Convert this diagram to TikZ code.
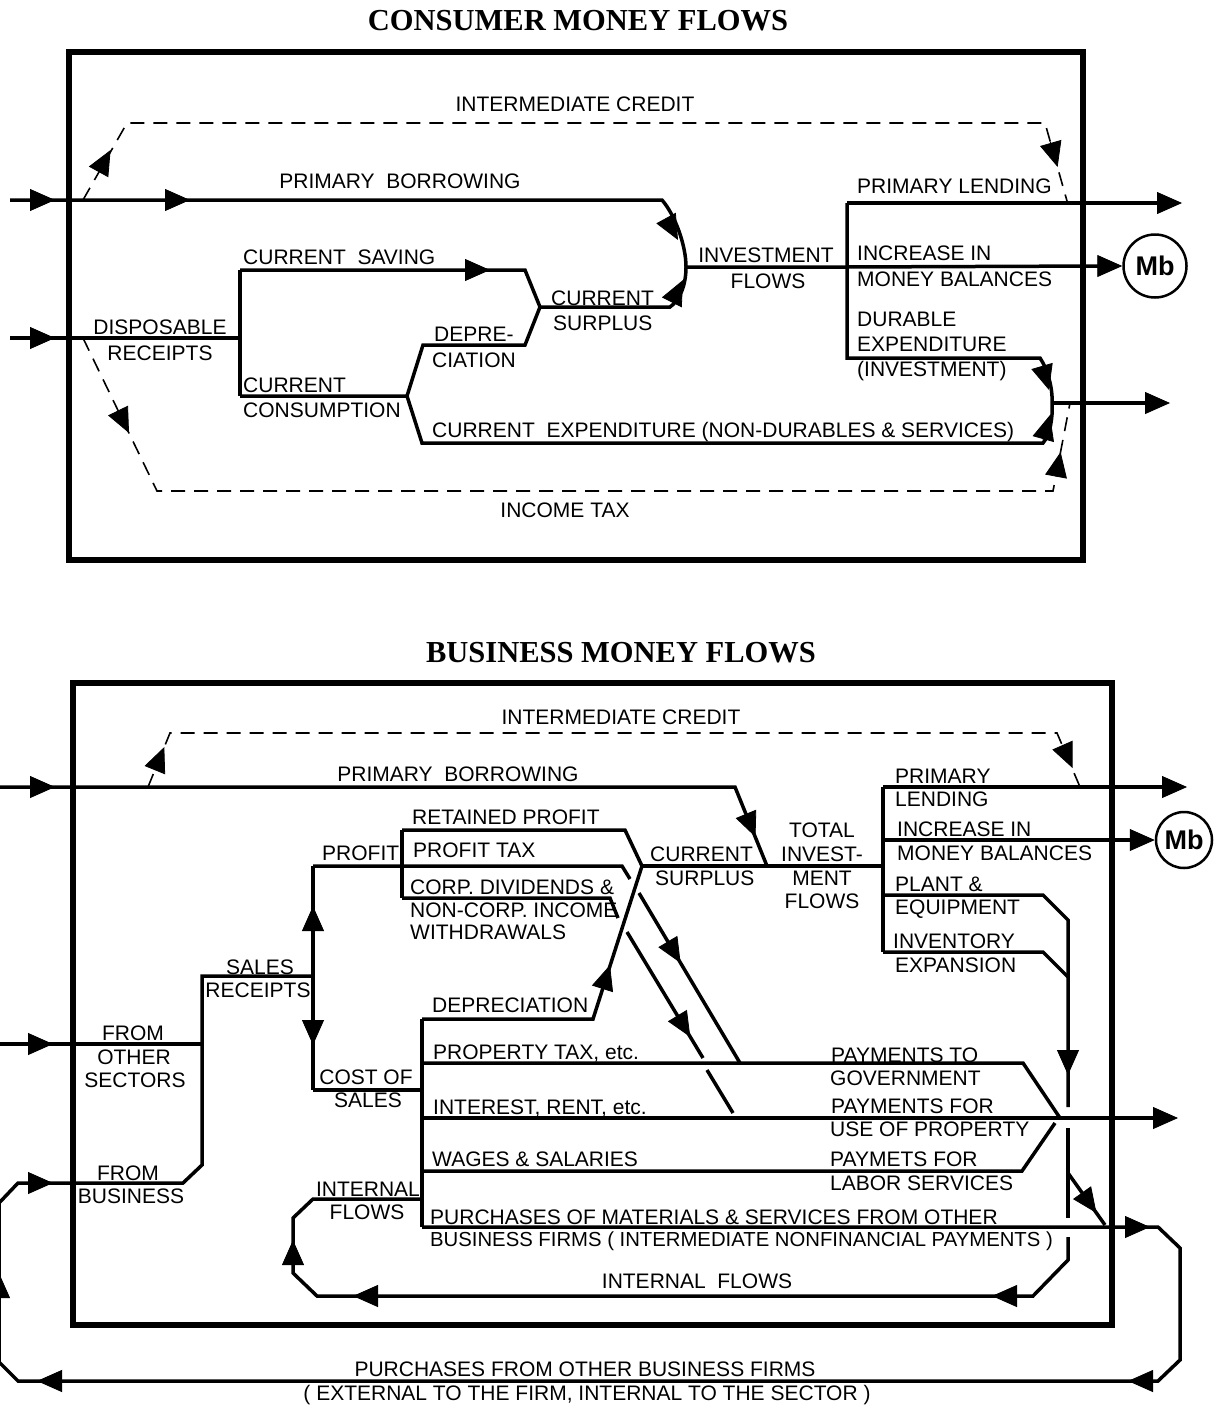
\documentclass[tikz,border=0pt]{standalone}
\usepackage{fontspec}
\setmainfont{Liberation Sans}
\newfontfamily\titlefont{Liberation Serif}
\usetikzlibrary{arrows.meta}

\begin{document}
\begin{tikzpicture}[x=1pt,y=-1pt,
  frame/.style={line width=5.5pt},
  flow/.style={line width=3.5pt},
  credit/.style={line width=1.6pt, dash pattern=on 14pt off 9pt},
  arrowhd/.style={line width=0.8pt, -{Triangle[length=25pt,width=22pt]}},
  lbl/.style={font=\fontsize{21}{21}\selectfont, inner sep=0pt, text height=14.5pt, text depth=0pt},
  lw/.style={lbl, anchor=west},
  heading/.style={font=\titlefont\bfseries\fontsize{30.5}{30.5}\selectfont, inner sep=0pt},
  money/.style={circle, draw, line width=2.5pt, inner sep=0pt, font=\bfseries\fontsize{27}{27}\selectfont}
]
\useasboundingbox (0,0) rectangle (1214,1405);

%% ===================== CONSUMER MONEY FLOWS =====================
\node[heading] (t-cons) at (578,21) {CONSUMER MONEY FLOWS};
\draw[frame] (69,52) rectangle (1083,560);

% junctions
\coordinate (c-bor)  at (10,200);
\coordinate (c-disp) at (10,338);
\coordinate (c-rec)  at (240,338);
\coordinate (c-sav)  at (240,270);
\coordinate (c-con)  at (240,396);
\coordinate (c-fork) at (407,396);
\coordinate (c-sur)  at (540,307);
\coordinate (c-inv)  at (686,267);
\coordinate (c-br)   at (847,267);
\coordinate (c-lend) at (847,203);
\coordinate (c-dur)  at (847,358);
\coordinate (c-exp)  at (1052,403);
\node[money, minimum size=63pt] (mb-c) at (1155,266) {Mb};

% primary borrowing into investment flows
\draw[flow] (c-bor) -- (662,200) .. controls (675,215) and (686,245) .. (c-inv);
% disposable receipts and its split
\draw[flow] (c-disp) -- (c-rec);
\draw[flow] (c-sav) -- (c-con);
\draw[flow] (c-sav) -- (525,270) -- (c-sur) -- (670,307) .. controls (680,300) and (686,285) .. (c-inv);
\draw[flow] (c-con) -- (c-fork) -- (423,345) -- (525,345) -- (c-sur);
\draw[flow] (c-fork) -- (422,443) -- (1043,443) .. controls (1050,435) and (1053,418) .. (c-exp);
% investment flows and their uses
\draw[flow] (c-inv) -- (c-br) -- ([xshift=-20pt]mb-c.west);
\draw[flow] (c-lend) -- (c-dur) -- (1040,358) .. controls (1047,368) and (1053,388) .. (c-exp);
\draw[flow] (c-lend) -- (1160,203);
\draw[flow] (c-exp) -- (1148,403);
% dashed credit and tax flows
\draw[credit] (83,200) -- (127,123) -- (1045,123) -- (1067,201);
\draw[credit] (83,338) -- (157,491) -- (1053,491) -- (1070,403);

% arrowheads
\draw[arrowhd] (30,200) -- (55,200);
\draw[arrowhd] (165,200) -- (190,200);
\draw[arrowhd] (30,338) -- (55,338);
\draw[arrowhd] (465,270) -- (490,270);
\draw[arrowhd] (666,218) -- (678,240);
\draw[arrowhd] (672,302) -- (683,280);
\draw[arrowhd] (1042,366) -- (1049,390);
\draw[arrowhd] (1043,440) -- (1050,415);
\draw[arrowhd] (1145,403) -- (1170,403);
\draw[arrowhd] (1157,203) -- (1182,203);
\draw[arrowhd] ([xshift=-25pt]mb-c.west) -- (mb-c.west);
\draw[arrowhd] (98.5,172) -- (110.6,150);
\draw[arrowhd] (1050.4,142) -- (1057.6,167);
\draw[arrowhd] (118,410.5) -- (129,433);
\draw[arrowhd] (1056,476.6) -- (1060.6,452);

% labels
\node[lbl] (l-ic1) at (575,104) {INTERMEDIATE CREDIT};
\node[lbl] (l-pb1) at (400,181) {PRIMARY\ \ BORROWING};
\node[lw]  (l-cs)  at (243,257) {CURRENT\ \ SAVING};
\node[lbl] (l-dr1) at (160,327) {DISPOSABLE};
\node[lbl] (l-dr2) at (160,353) {RECEIPTS};
\node[lw]  (l-cc1) at (243,385) {CURRENT};
\node[lw]  (l-cc2) at (243,410) {CONSUMPTION};
\node[lw]  (l-de1) at (434,334) {DEPRE-};
\node[lw]  (l-de2) at (432,360) {CIATION};
\node[lw]  (l-su1) at (551,298) {CURRENT};
\node[lw]  (l-su2) at (553,323) {SURPLUS};
\node[lbl] (l-if1) at (766,255) {INVESTMENT};
\node[lbl] (l-if2) at (768,281) {FLOWS};
\node[lw]  (l-pl)  at (857,186) {PRIMARY LENDING};
\node[lw]  (l-mb1) at (857,253) {INCREASE IN};
\node[lw]  (l-mb2) at (857,279) {MONEY BALANCES};
\node[lw]  (l-du1) at (857,319) {DURABLE};
\node[lw]  (l-du2) at (857,344) {EXPENDITURE};
\node[lw]  (l-du3) at (857,369) {(INVESTMENT)};
\node[lw]  (l-ce)  at (432,430) {CURRENT\ \ EXPENDITURE (NON-DURABLES \& SERVICES)};
\node[lbl] (l-it)  at (565,510) {INCOME TAX};

%% ===================== BUSINESS MONEY FLOWS =====================
\node[heading] (t-bus) at (621,653) {BUSINESS MONEY FLOWS};
\draw[frame] (73,683) rectangle (1112,1325);

% junctions
\coordinate (b-bor)  at (0,787);
\coordinate (b-oth)  at (0,1044);
\coordinate (b-sr)   at (202,976);
\coordinate (b-pc)   at (313,976);
\coordinate (b-prof) at (313,866);
\coordinate (b-cost) at (313,1090);
\coordinate (b-pt)   at (402,866);
\coordinate (b-ret)  at (402,830);
\coordinate (b-div)  at (402,898);
\coordinate (b-cs)   at (642,866);
\coordinate (b-tot)  at (883,866);
\coordinate (b-lend) at (883,787);
\coordinate (b-mb)   at (883,840);
\coordinate (b-pe)   at (883,895);
\coordinate (b-ie)   at (883,952);
\coordinate (b-top)  at (422,1019);
\coordinate (b-bot)  at (422,1227);
\coordinate (b-out)  at (1058,1118);
\node[money, minimum size=56pt] (mb-b) at (1184,840) {Mb};

% primary borrowing, current surplus, total investment flows
\draw[flow] (b-bor) -- (735,787) -- (767,866);
\draw[flow] (b-cs) -- (b-tot);
\draw[flow] (b-lend) -- (b-ie);
\draw[flow] (b-lend) -- (1165,787);
\draw[flow] (b-mb) -- ([xshift=-20pt]mb-b.west);
\draw[flow] (b-pe) -- (1043,895) -- (1068,920) -- (1068,1107);
\draw[flow] (b-ie) -- (1043,952) -- (1068,977);
\draw[flow] (1068,1128) -- (1068,1218);
\draw[flow] (1068,1173) -- (1105,1225);
% internal flows loop
\draw[flow] (1068,1237) -- (1068,1260) -- (1033,1296) -- (317,1296) -- (293,1273)
  -- (293,1218) -- (313,1199) -- (422,1199);
% sales receipts and purchases from other business firms
\draw[flow] (b-oth) -- (202,1044);
\draw[flow] (b-pc) -- (b-sr) -- (202,1165) -- (183,1183) -- (18,1183) -- (-1,1203)
  -- (-1,1362) -- (18,1381) -- (1158,1381) -- (1180,1360) -- (1180,1248)
  -- (1158,1227) -- (b-bot);
\draw[flow] (b-prof) -- (b-cost);
% profit and its division
\draw[flow] (b-prof) -- (b-pt) -- (622,866) -- (630,879);
\draw[flow] (b-ret) -- (b-div);
\draw[flow] (b-ret) -- (625,830) -- (b-cs);
\draw[flow] (b-div) -- (610,898) -- (618,918);
\draw[flow] (639,893) -- (740,1063);
\draw[flow] (627,932) -- (703,1058);
\draw[flow] (707,1070) -- (733,1113);
% cost of sales and its division
\draw[flow] (b-cost) -- (422,1090);
\draw[flow] (b-top) -- (b-bot);
\draw[flow] (b-top) -- (593,1019) -- (b-cs);
\draw[flow] (422,1063) -- (1023,1063) -- (1060,1118);
\draw[flow] (422,1118) -- (1155,1118);
\draw[flow] (422,1171) -- (1022,1171) -- (1055,1123);
% dashed intermediate credit
\draw[credit] (148,787) -- (170,733) -- (1057,733) -- (1080,787);

% arrowheads
\draw[arrowhd] (30,787) -- (55,787);
\draw[arrowhd] (746,814) -- (755.5,837);
\draw[arrowhd] (1162,787) -- (1187,787);
\draw[arrowhd] ([xshift=-25pt]mb-b.west) -- (mb-b.west);
\draw[arrowhd] (1068,1050) -- (1068,1075);
\draw[arrowhd] (1082,1192.6) -- (1096.5,1213);
\draw[arrowhd] (1017,1296) -- (992,1296);
\draw[arrowhd] (378,1296) -- (353,1296);
\draw[arrowhd] (293,1265) -- (293,1240);
\draw[arrowhd] (28,1044) -- (53,1044);
\draw[arrowhd] (28,1183) -- (53,1183);
\draw[arrowhd] (-1,1298) -- (-1,1273);
\draw[arrowhd] (62,1381) -- (37,1381);
\draw[arrowhd] (1153,1381) -- (1128,1381);
\draw[arrowhd] (1125,1227) -- (1150,1227);
\draw[arrowhd] (1153,1118) -- (1178,1118);
\draw[arrowhd] (313,931) -- (313,906);
\draw[arrowhd] (313,1020) -- (313,1045);
\draw[arrowhd] (667.8,941.5) -- (680.6,963);
\draw[arrowhd] (677.4,1015.6) -- (690.3,1037);
\draw[arrowhd] (602.4,989) -- (610,965);
\draw[arrowhd] (154.9,770) -- (164.3,747);
\draw[arrowhd] (1062.4,745) -- (1072.5,768);

% labels
\node[lbl] (m-ic)  at (621,717) {INTERMEDIATE CREDIT};
\node[lbl] (m-pb)  at (458,774) {PRIMARY\ \ BORROWING};
\node[lw]  (m-rp)  at (412,817) {RETAINED PROFIT};
\node[lw]  (m-pr)  at (322,853) {PROFIT};
\node[lw]  (m-pt)  at (413,850) {PROFIT TAX};
\node[lw]  (m-cd1) at (410,887) {CORP. DIVIDENDS \&};
\node[lw]  (m-cd2) at (410,910) {NON-CORP. INCOME};
\node[lw]  (m-cd3) at (410,932) {WITHDRAWALS};
\node[lw]  (m-cs1) at (650,854) {CURRENT};
\node[lw]  (m-cs2) at (655,878) {SURPLUS};
\node[lbl] (m-ti1) at (822,830) {TOTAL};
\node[lbl] (m-ti2) at (822,854) {INVEST-};
\node[lbl] (m-ti3) at (822,878) {MENT};
\node[lbl] (m-ti4) at (822,901) {FLOWS};
\node[lw]  (m-pl1) at (895,776) {PRIMARY};
\node[lw]  (m-pl2) at (895,799) {LENDING};
\node[lw]  (m-mb1) at (897,829) {INCREASE IN};
\node[lw]  (m-mb2) at (897,853) {MONEY BALANCES};
\node[lw]  (m-pe1) at (895,884) {PLANT \&};
\node[lw]  (m-pe2) at (895,907) {EQUIPMENT};
\node[lw]  (m-ie1) at (893,941) {INVENTORY};
\node[lw]  (m-ie2) at (895,965) {EXPANSION};
\node[lbl] (m-sr1) at (260,967) {SALES};
\node[lbl] (m-sr2) at (258,990) {RECEIPTS};
\node[lbl] (m-os1) at (133,1033) {FROM};
\node[lbl] (m-os2) at (134,1057) {OTHER};
\node[lbl] (m-os3) at (135,1080) {SECTORS};
\node[lbl] (m-fb1) at (128,1173) {FROM};
\node[lbl] (m-fb2) at (131,1196) {BUSINESS};
\node[lw]  (m-dep) at (432,1005) {DEPRECIATION};
\node[lbl] (m-co1) at (366,1077) {COST OF};
\node[lbl] (m-co2) at (368,1100) {SALES};
\node[lw]  (m-ptx) at (433,1052) {PROPERTY TAX, etc.};
\node[lw]  (m-irn) at (433,1107) {INTEREST, RENT, etc.};
\node[lw]  (m-wag) at (432,1159) {WAGES\ \& SALARIES};
\node[lbl] (m-in1) at (368,1189) {INTERNAL};
\node[lbl] (m-in2) at (367,1212) {FLOWS};
\node[lw]  (m-pm1) at (430,1217) {PURCHASES OF MATERIALS \& SERVICES FROM OTHER};
\node[lw, font=\fontsize{20.3}{20.3}\selectfont] (m-pm2) at (430,1239)
  {BUSINESS FIRMS ( INTERMEDIATE NONFINANCIAL PAYMENTS )};
\node[lw]  (m-pg1) at (831,1055) {PAYMENTS TO};
\node[lw]  (m-pg2) at (830,1078) {GOVERNMENT};
\node[lw]  (m-pp1) at (831,1106) {PAYMENTS FOR};
\node[lw]  (m-pp2) at (830,1129) {USE OF PROPERTY};
\node[lw]  (m-pw1) at (830,1159) {PAYMETS FOR};
\node[lw]  (m-pw2) at (830,1183) {LABOR SERVICES};
\node[lbl] (m-inf) at (697,1281) {INTERNAL\ \ FLOWS};
\node[lbl] (m-ex1) at (585,1369) {PURCHASES FROM OTHER BUSINESS FIRMS};
\node[lbl] (m-ex2) at (587,1393) {( EXTERNAL TO THE FIRM, INTERNAL TO THE SECTOR )};

\end{tikzpicture}
\end{document}
